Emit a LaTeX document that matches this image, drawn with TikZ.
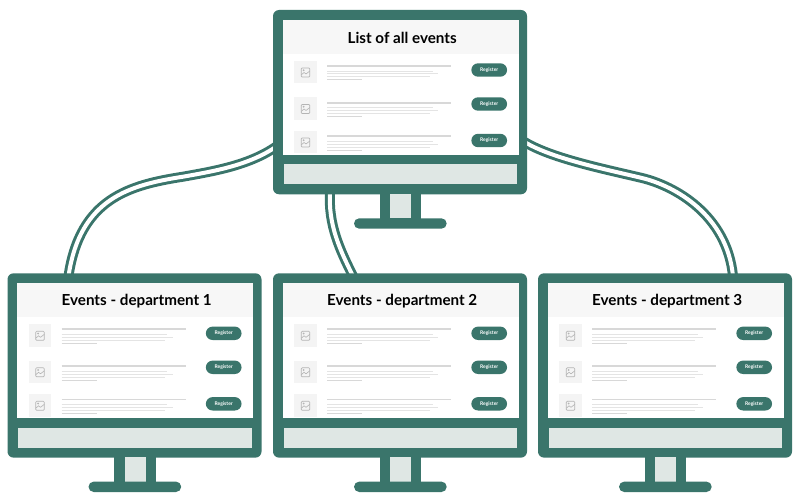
\documentclass[tikz,border=0pt]{standalone}
\usepackage{fontspec}
\usetikzlibrary{backgrounds}
\setmainfont{Lato}
\definecolor{teal}{HTML}{3A756B}
\definecolor{chin}{HTML}{DFE7E4}
\definecolor{band}{HTML}{F7F7F7}
\definecolor{thumb}{HTML}{F4F4F4}
\definecolor{headline}{HTML}{D8D8D8}
\definecolor{subline}{HTML}{E4E4E4}
\definecolor{icon}{HTML}{B4B4B4}
\tikzset{
	frame/.style={fill=teal,rounded corners=6pt,minimum width=254pt,minimum height=184.3pt,inner sep=0pt},
	title/.style={font=\bfseries\fontsize{15.2}{18}\selectfont,text=black},
	btn/.style={fill=teal,rounded corners=6.7pt,minimum width=35.7pt,minimum height=13.4pt,inner sep=0pt,text=white,font=\bfseries\fontsize{5}{6}\selectfont},
	link/.style={draw=teal,line width=3pt,double=white,double distance=4pt},
}
\newcommand{\monitor}[4]{%
	\begin{scope}[shift={(#2,#3)}]
		\node[frame] (#1) at (400,102.15) {};
		\fill[white] (282.5,20) rectangle (518.5,155);
		\fill[band] (282.5,20) rectangle (518.5,54);
		\node[title] (#1title) at (402.2,38.2) {#4};
		\fill[chin] (283.7,164.3) rectangle (517.3,184.3);
		\fill[teal] (379.7,194) rectangle (421.3,220);
		\fill[chin] (390,194) rectangle (411,218.3);
		\fill[teal,rounded corners=5.2pt] (354,218.3) rectangle (446.7,228.7);
		\foreach \ty/\ly/\by [count=\i] in {61/66/70,97.5/102.7/104,131/136.3/140.5}{
			\fill[thumb] (294,\ty) rectangle ++(22.7,22.3);
			\draw[icon,line width=.7pt,rounded corners=1pt] (301.2,\ty+7) rectangle ++(8.6,9);
			\draw[icon,line width=.6pt] (301.2,\ty+14) -- (304,\ty+11.5) -- (306,\ty+13) -- (309.8,\ty+10);
			\fill[icon] (303.6,\ty+9.2) circle (1pt);
			\draw[headline,line width=1.7pt] (327,\ly) -- (451,\ly);
			\draw[subline,line width=1pt] (327,\ly+5.2) -- (432.5,\ly+5.2);
			\draw[subline,line width=1pt] (327,\ly+8) -- (438,\ly+8);
			\draw[subline,line width=1pt] (327,\ly+11) -- (430,\ly+11);
			\draw[headline,line width=1pt] (327,\ly+14) -- (362,\ly+14);
			\node[btn] (#1btn\i) at (489.2,\by) {Register};
		}
	\end{scope}
}
\begin{document}
\begin{tikzpicture}[x=1pt,y=-1pt]
	\useasboundingbox (0,0) rectangle (800,500);

	\monitor{monAll}{0}{0}{List of all events}
	\monitor{monOne}{-265.5}{263.3}{Events - department 1}
	\monitor{monTwo}{0}{263.3}{Events - department 2}
	\monitor{monThree}{265}{263.3}{Events - department 3}

	% links go under the frames
	\begin{scope}[on background layer]
		\draw[link] ([xshift=4pt,yshift=-44pt]monAll.west) .. controls (250,165) and (215,171) .. (183,176.7) .. controls (130,185) and (80,198) .. ([xshift=-66pt,yshift=-3pt]monOne.north);
		\draw[link] ([xshift=-4pt,yshift=-39pt]monAll.east) .. controls (550,158) and (602,168.5) .. (642,178) .. controls (675,186) and (727,215) .. ([xshift=68pt,yshift=-3pt]monThree.north);
		\draw[link] ([xshift=-70pt,yshift=3pt]monAll.south) .. controls (328,225) and (340,250) .. ([xshift=-47pt,yshift=-3pt]monTwo.north);
	\end{scope}
\end{tikzpicture}
\end{document}
